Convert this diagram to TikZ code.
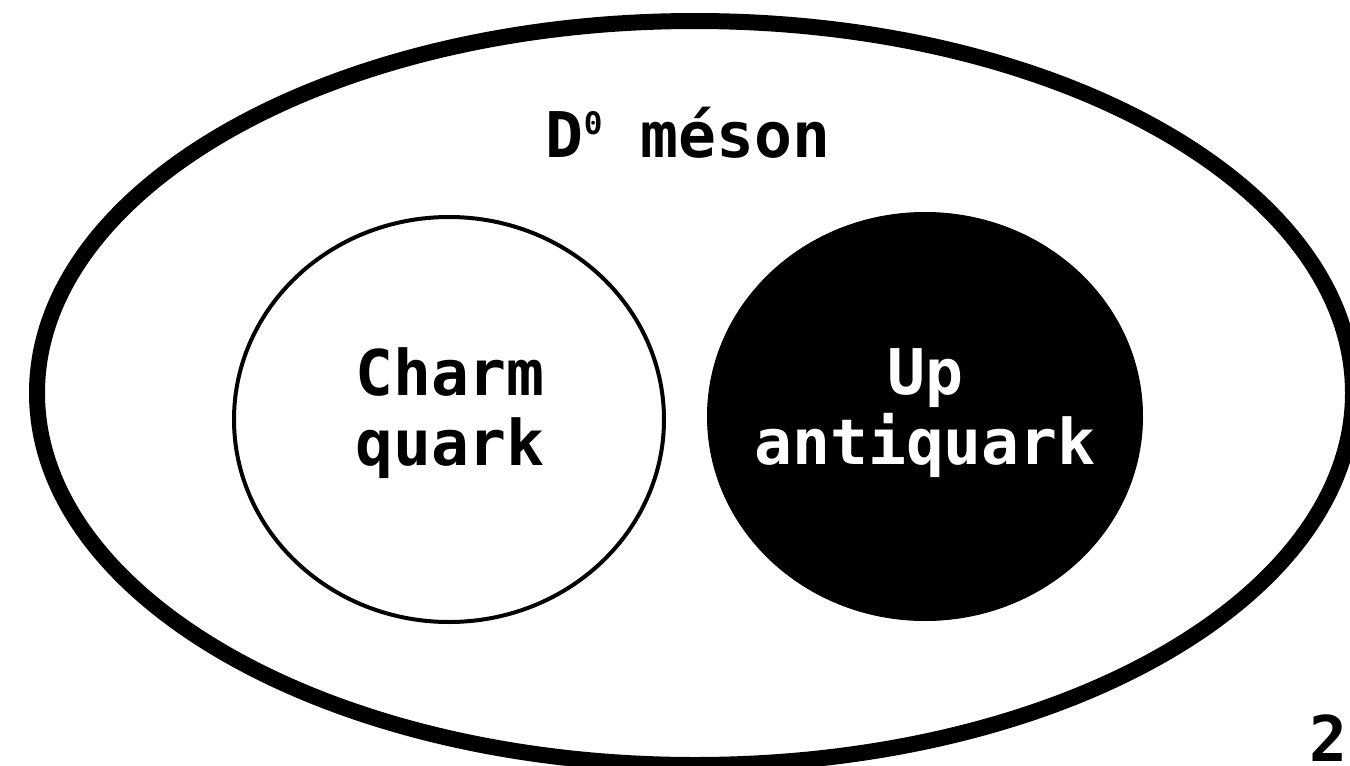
\documentclass[tikz,border=0pt]{standalone}
\usepackage{fontspec}
\usetikzlibrary{shapes.geometric}
\newfontfamily\monofont{DejaVu Sans Mono}
\begin{document}
\begin{tikzpicture}[x=1pt,y=-1pt,
  labeltext/.style={font=\monofont\bfseries\fontsize{63}{70}\selectfont, align=center, inner sep=0pt},
  outerring/.style={draw=black, line width=16pt},
  quarkring/.style={draw=black, line width=4pt}]
\useasboundingbox (0,0) rectangle (1350,766);
\clip (0,0) rectangle (1350,766);
\fill[white] (0,0) rectangle (1350,766);
\draw[outerring] (695,393) ellipse [x radius=658, y radius=372];
\node[quarkring, ellipse, minimum width=430pt, minimum height=405pt, inner sep=0pt] (charm) at (449,419.5) {};
\node[draw=black, fill=black, line width=1pt, ellipse, minimum width=435pt, minimum height=408pt, inner sep=0pt] (up) at (925,416.5) {};
\node[labeltext, anchor=base] (title) at (688,157) {D\raisebox{23pt}{\fontsize{31}{31}\selectfont 0}\ méson};
\node[labeltext, text=black] (charmtext) at (450,413) {Charm\\quark};
\node[labeltext, text=white] (uptext) at (925,413) {Up\\antiquark};
\node[labeltext, anchor=base, text depth=0pt, text height=45pt] (page) at (1328,761) {2};
\end{tikzpicture}
\end{document}
